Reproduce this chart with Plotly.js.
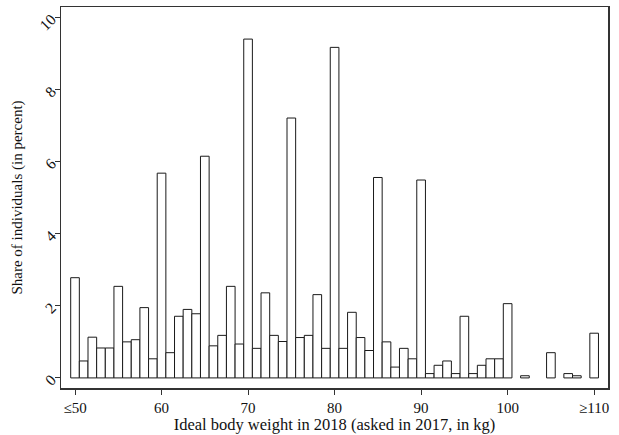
<!DOCTYPE html>
<html>
<head>
<meta charset="utf-8">
<script src="https://cdn.plot.ly/plotly-3.0.1.min.js"></script>
<style>html,body{margin:0;padding:0;background:#fff;}#chart{width:619px;height:435px;}</style>
</head>
<body>
<div id="chart"></div>
<script>
// Ideal body weight (kg), 50 = "≤50", 110 = "≥110"
const weights = [50,51,52,53,54,55,56,57,58,59,60,61,62,63,64,65,66,67,68,69,70,71,72,73,74,75,76,77,78,79,80,81,82,83,84,85,86,87,88,89,90,91,92,93,94,95,96,97,98,99,100,101,102,103,104,105,106,107,108,109,110];
// Share of individuals (percent)
const shares = [2.78,0.47,1.13,0.83,0.83,2.54,1.00,1.06,1.95,0.53,
                5.68,0.70,1.71,1.90,1.78,6.15,0.89,1.18,2.54,0.94,
                9.40,0.82,2.36,1.18,1.01,7.21,1.12,1.18,2.31,0.82,
                9.17,0.82,1.82,1.12,0.76,5.56,1.00,0.30,0.82,0.53,
                5.49,0.12,0.35,0.47,0.12,1.71,0.12,0.35,0.53,0.53,
                2.06,null,0.06,null,null,0.70,null,0.12,0.06,null,1.24];
const xTickVals = [50,60,70,80,90,100,110];
const xTickText = ["≤50","60","70","80","90","100","≥110"];
const yTickVals = [0,2,4,6,8,10];

const font = {family: "Liberation Serif, Times New Roman, serif", color: "#111"};

Plotly.newPlot("chart", [{
  type: "bar",
  x: weights,
  y: shares,
  width: 1,
  marker: {color: "#ffffff", line: {color: "#1a1a1a", width: 1}},
  hoverinfo: "x+y"
}], {
  width: 619, height: 435,
  margin: {l: 61, r: 11, t: 7, b: 47},
  paper_bgcolor: "#fff", plot_bgcolor: "#fff",
  font: Object.assign({size: 15}, font),
  showlegend: false,
  bargap: 0,
  xaxis: {
    range: [48.38, 111.6],
    tickmode: "array", tickvals: xTickVals, ticktext: xTickText,
    ticks: "outside", ticklen: 5, tickcolor: "#333", tickwidth: 1,
    showgrid: false, zeroline: false,
    showline: true, linecolor: "#333", linewidth: 1.5, mirror: true,
    tickfont: Object.assign({size: 15}, font),
    title: {text: "Ideal body weight in 2018 (asked in 2017, in kg)", font: Object.assign({size: 16.5}, font), standoff: 2}
  },
  yaxis: {
    range: [-0.28, 10.29],
    tickmode: "array", tickvals: yTickVals,
    ticks: "outside", ticklen: 5, tickcolor: "#333", tickwidth: 1,
    tickangle: -45,
    showgrid: false, zeroline: false,
    showline: true, linecolor: "#333", linewidth: 1.5, mirror: true,
    tickfont: Object.assign({size: 15.5}, font),
    title: {text: "Share of individuals (in percent)", font: Object.assign({size: 15}, font), standoff: 10}
  }
}, {displayModeBar: false, staticPlot: true});
</script>
</body>
</html>
